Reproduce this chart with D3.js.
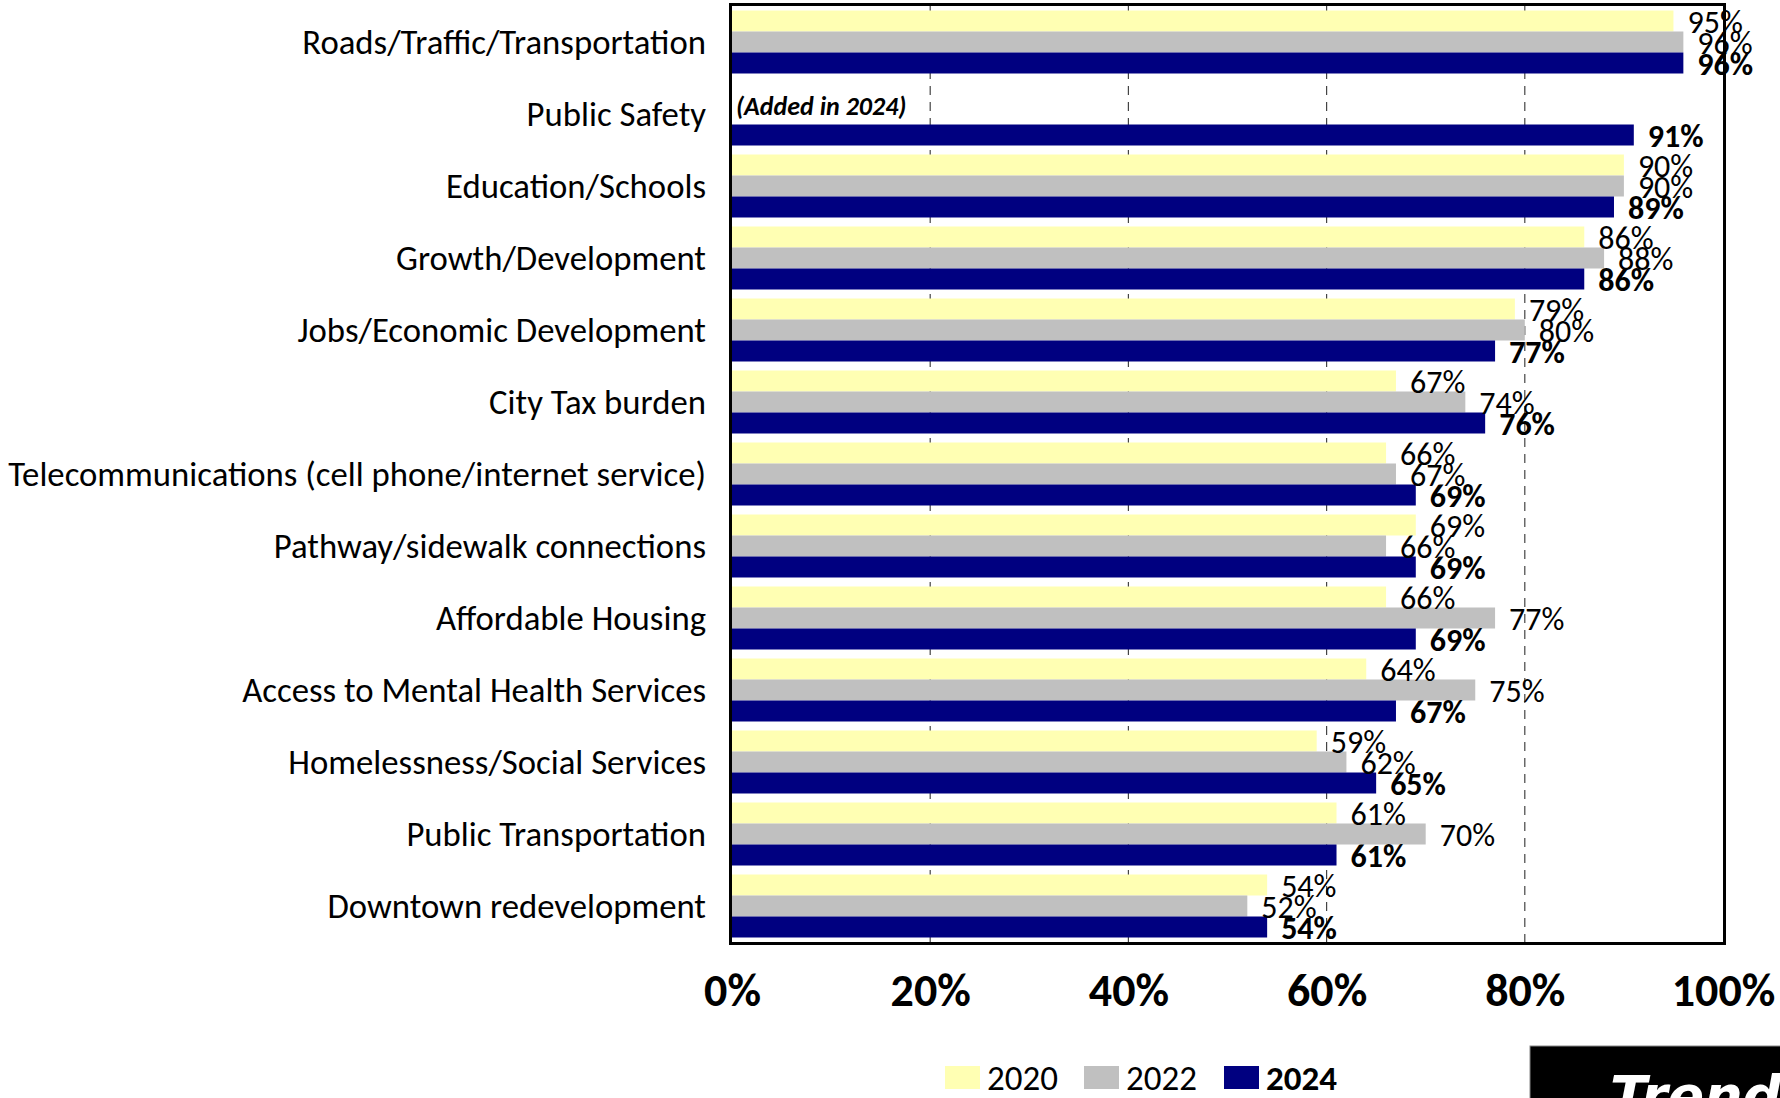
<!DOCTYPE html>
<html>
<head>
<meta charset="utf-8">
<script src="https://cdn.jsdelivr.net/npm/d3@7"></script>
<style>
  html, body { margin: 0; padding: 0; background: #fff; }
  svg { display: block; }
  text { font-family: Carlito, Calibri, Lato, "Open Sans", sans-serif; }
</style>
</head>
<body>
<svg id="chart" width="1780" height="1098"></svg>
<script>
const categories = [
  "Roads/Traffic/Transportation",
  "Public Safety",
  "Education/Schools",
  "Growth/Development",
  "Jobs/Economic Development",
  "City Tax burden",
  "Telecommunications (cell phone/internet service)",
  "Pathway/sidewalk connections",
  "Affordable Housing",
  "Access to Mental Health Services",
  "Homelessness/Social Services",
  "Public Transportation",
  "Downtown redevelopment"
];
const seriesNames = ["2020", "2022", "2024"];
const values2020 = [95, null, 90, 86, 79, 67, 66, 69, 66, 64, 59, 61, 54];
const values2022 = [96, null, 90, 88, 80, 74, 67, 66, 77, 75, 62, 70, 52];
const values2024 = [96, 91, 89, 86, 77, 76, 69, 69, 69, 67, 65, 61, 54];
const seriesColors = ["#FFFFB3", "#C0C0C0", "#000080"];
const xTicks = [0, 20, 40, 60, 80, 100];
const note = "(Added in 2024)";
const cornerText = "Trends";

const seriesValues = [values2020, values2022, values2024];
const rows = categories.map((c, i) => ({
  cat: c,
  vals: seriesNames.map((s, j) => ({ series: s, j, v: seriesValues[j][i] }))
}));

const svg = d3.select("#chart");
const plot = { left: 732, right: 1723, top: 6, bottom: 942 };

const x = d3.scaleLinear().domain([0, 100]).range([plot.left, plot.right]);
const y = d3.scaleBand().domain(categories).range([plot.top, plot.bottom])
  .paddingInner(0.125).paddingOuter(0.0625);
const ySub = d3.scaleBand().domain(seriesNames).range([0, y.bandwidth()]).padding(0);

// gridlines (dashed)
svg.append("g").selectAll("line")
  .data(xTicks.filter(t => t > 0 && t < 100))
  .join("line")
  .attr("x1", d => x(d)).attr("x2", d => x(d))
  .attr("y1", plot.top).attr("y2", plot.bottom)
  .attr("stroke", "#444").attr("stroke-width", 1.2)
  .attr("stroke-dasharray", "9,7");

// bars
const groups = svg.append("g").selectAll("g")
  .data(rows).join("g")
  .attr("transform", d => `translate(0,${y(d.cat)})`);

groups.selectAll("rect")
  .data(d => d.vals.filter(v => v.v != null))
  .join("rect")
  .attr("x", x(0))
  .attr("y", d => ySub(d.series))
  .attr("width", d => x(d.v) - x(0))
  .attr("height", ySub.bandwidth())
  .attr("fill", d => seriesColors[d.j]);

groups.selectAll("text.val")
  .data(d => d.vals.filter(v => v.v != null))
  .join("text")
  .attr("class", "val")
  .attr("x", d => x(d.v) + 14)
  .attr("y", d => ySub(d.series) + ySub.bandwidth() / 2)
  .attr("dy", "0.36em")
  .attr("font-size", 32)
  .attr("font-weight", d => d.j === 2 ? "bold" : "normal")
  .attr("fill", "#000")
  .text(d => d.v + "%");

// note for Public Safety
svg.append("text")
  .attr("x", plot.left + 4)
  .attr("y", y("Public Safety") + ySub("2020") + ySub.bandwidth() + 2)
  .attr("dy", "0.36em")
  .attr("font-size", 26)
  .attr("font-weight", "bold")
  .attr("font-style", "italic")
  .text(note);

// plot border
svg.append("rect")
  .attr("x", plot.left - 1.5).attr("y", plot.top - 1.5)
  .attr("width", plot.right - plot.left + 3).attr("height", plot.bottom - plot.top + 3)
  .attr("fill", "none").attr("stroke", "#000").attr("stroke-width", 3);

// category labels
const catLabels = svg.append("g").selectAll("text")
  .data(categories).join("text")
  .attr("x", 706)
  .attr("y", d => y(d) + y.bandwidth() / 2)
  .attr("dy", "0.35em")
  .attr("text-anchor", "end")
  .attr("font-size", 30)
  .text(d => d);
// fit font size so the longest label matches the reference width
let maxW = 0;
catLabels.each(function () { maxW = Math.max(maxW, this.getComputedTextLength()); });
const catSize = 30 * 698 / maxW;
catLabels.attr("font-size", catSize);

// x axis tick labels
const xAxis = d3.axisBottom(x).tickValues(xTicks).tickFormat(d => d + "%").tickSize(0).tickPadding(0);
const ax = svg.append("g").attr("transform", `translate(0,${plot.bottom})`).call(xAxis);
ax.select(".domain").remove();
ax.selectAll("text")
  .attr("y", 48).attr("dy", "0.35em")
  .attr("font-size", 46).attr("font-weight", "bold")
  .attr("fill", "#000")
  .style("font-family", "Carlito, Calibri, Lato, sans-serif");

// legend
const legendX = [945, 1084, 1224];
const leg = svg.append("g").selectAll("g")
  .data(seriesNames).join("g")
  .attr("transform", (d, i) => `translate(${legendX[i]},1066)`);
leg.append("rect").attr("width", 35).attr("height", 23).attr("fill", (d, i) => seriesColors[i]);
leg.append("text")
  .attr("x", 42).attr("y", 11.5).attr("dy", "0.36em")
  .attr("font-size", 35)
  .attr("font-weight", (d, i) => i === 2 ? "bold" : "normal")
  .text(d => d);

// corner box
svg.append("rect").attr("x", 1530).attr("y", 1046).attr("width", 260).attr("height", 60)
  .attr("fill", "#000").attr("stroke", "#888").attr("stroke-width", 1);
svg.append("text").attr("x", 1610).attr("y", 1114)
  .attr("fill", "#fff").attr("font-size", 54)
  .attr("font-weight", "bold").attr("font-style", "italic")
  .style("font-family", "'DejaVu Sans', Verdana, sans-serif")
  .text(cornerText);
</script>
</body>
</html>
